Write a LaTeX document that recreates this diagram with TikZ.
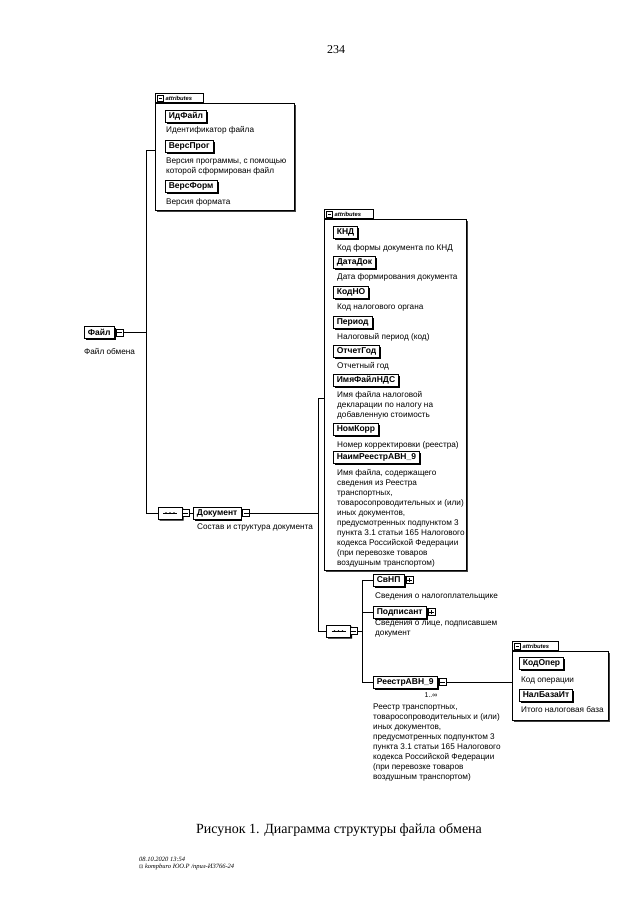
\documentclass[tikz,border=0pt]{standalone}
\usepackage{fontspec}
\setmainfont{Liberation Sans}
\newfontfamily\seriff{Liberation Serif}
\newfontfamily\symf{DejaVu Sans}
\usetikzlibrary{shapes.misc,shadows}
\begin{document}
\begin{tikzpicture}[x=1pt,y=-1pt,
  conn/.style={line width=0.7pt},
  elem/.style={draw, fill=white, line width=0.7pt, font=\bfseries\fontsize{8.5}{9}\selectfont,
    inner xsep=3.5pt, inner ysep=0pt, minimum height=12pt, anchor=west,
    drop shadow={shadow xshift=1.6pt, shadow yshift=-1.6pt, fill=black, opacity=1}},
  desc/.style={font=\fontsize{8.2}{10}\selectfont, inner sep=0pt, anchor=north west, align=left},
  symb/.style={draw, fill=white, line width=0.6pt, minimum size=7pt, inner sep=0pt},
  minusb/.style={symb, path picture={\draw[line width=0.5pt]
      ([xshift=1.2pt]path picture bounding box.west) -- ([xshift=-1.2pt]path picture bounding box.east);}},
  plusb/.style={symb, path picture={\draw[line width=0.5pt]
      ([xshift=1.2pt]path picture bounding box.west) -- ([xshift=-1.2pt]path picture bounding box.east)
      ([yshift=1.2pt]path picture bounding box.south) -- ([yshift=-1.2pt]path picture bounding box.north);}},
  attrbox/.style={draw, line width=0.7pt, fill=white, anchor=north west, inner sep=0pt,
    drop shadow={shadow xshift=1.2pt, shadow yshift=-1.2pt, fill=black!75, opacity=1}},
  attrtab/.style={draw, line width=0.7pt, fill=white, anchor=south west, inner sep=0pt, minimum height=9pt},
  tablabel/.style={font=\bfseries\itshape\fontsize{5.8}{6}\selectfont, anchor=west, inner sep=0pt},
  seqs/.style={chamfered rectangle, chamfered rectangle xsep=3.5pt, chamfered rectangle ysep=3.5pt,
    draw, fill=white, line width=0.7pt,
    minimum width=24pt, minimum height=12pt, inner sep=0pt,
    drop shadow={shadow xshift=1.5pt, shadow yshift=-1.5pt, fill=black, opacity=1}},
]
\useasboundingbox[fill=white] (0,0) rectangle (640,905);

% page number
\node[font=\seriff\fontsize{12}{14}\selectfont, inner sep=0pt] (pagenum) at (336,50) {234};

% ---------- attributes box 1 ----------
\node[attrbox, minimum width=139pt, minimum height=107pt] (attr1) at (155,103) {};
\node[attrtab, minimum width=48pt] (tab1) at (155,103) {};
\node[minusb, minimum size=6pt] (tm1) at (160.5,98.5) {};
\node[tablabel] (tl1) at (165.5,98.5) {attributes};
\node[elem] (idf) at (165,116.5) {ИдФайл};
\node[desc] (idfd) at (166,126.5) {Идентификатор файла};
\node[elem] (vprog) at (165,146) {ВерсПрог};
\node[desc] (vprogd) at (166,157.5) {Версия программы, с помощью\\которой сформирован файл};
\node[elem] (vform) at (165,186.5) {ВерсФорм};
\node[desc] (vformd) at (166,198.5) {Версия формата};

% ---------- root ----------
\node[elem] (fl) at (84,332.5) {Файл};
\node[minusb] (fls) at ([xshift=5pt]fl.east) {};
\node[desc] (fld) at (84,348.5) {Файл обмена};

\coordinate (v1t) at (146,150);
\coordinate (v1b) at (146,513);
\draw[conn] (fls.east) -- (fls.east -| v1t);

% sequence 1
\node[seqs] (seq1) at (170,513) {};
\draw[line width=0.6pt] ([xshift=-7pt]seq1.center) -- ([xshift=7pt]seq1.center);
\foreach \dx in {-4,0,4} \fill ([xshift=\dx pt]seq1.center) circle (0.9pt);
\node[minusb] (sq1) at (185.5,513) {};
\draw[conn] (attr1.west |- v1t) -- (v1t) -- (v1b) -- (seq1.west);

\node[elem] (doc) at (193,513) {Документ};
\node[minusb] (docs) at ([xshift=5pt]doc.east) {};
\node[desc] (docd) at (197,524) {Состав и структура документа};
\draw[conn] (sq1.east) -- (doc.west);

% ---------- attributes box 2 ----------
\node[attrbox, minimum width=142pt, minimum height=351pt] (attr2) at (324,219) {};
\node[attrtab, minimum width=49pt] (tab2) at (324,219) {};
\node[minusb, minimum size=6pt] (tm2) at (329.5,214.5) {};
\node[tablabel] (tl2) at (334.5,214.5) {attributes};
\node[elem] (knd) at (333,232) {КНД};
\node[desc] (kndd) at (337,244) {Код формы документа по КНД};
\node[elem] (datadok) at (333,262) {ДатаДок};
\node[desc] (datadokd) at (337,273) {Дата формирования документа};
\node[elem] (kodno) at (333,292) {КодНО};
\node[desc] (kodnod) at (337,303.5) {Код налогового органа};
\node[elem] (period) at (333,322) {Период};
\node[desc] (periodd) at (337,333.5) {Налоговый период (код)};
\node[elem] (otchgod) at (333,351.5) {ОтчетГод};
\node[desc] (otchgodd) at (337,362.5) {Отчетный год};
\node[elem] (imyaf) at (333,380.5) {ИмяФайлНДС};
\node[desc] (imyafd) at (337,391) {Имя файла налоговой\\декларации по налогу на\\добавленную стоимость};
\node[elem] (nomkorr) at (333,429.5) {НомКорр};
\node[desc] (nomkorrd) at (337,441) {Номер корректировки (реестра)};
\node[elem] (naim) at (333,457) {НаимРеестрАВН\_9};
\node[desc] (naimd) at (337,469) {Имя файла, содержащего\\сведения из Реестра\\транспортных,\\товаросопроводительных и (или)\\иных документов,\\предусмотренных подпунктом 3\\пункта 3.1 статьи 165 Налогового\\кодекса Российской Федерации\\(при перевозке товаров\\воздушным транспортом)};

\coordinate (v2t) at (318,398);
\coordinate (v2b) at (318,631);
\draw[conn] (docs.east) -- (docs.east -| v2t);

% sequence 2
\node[seqs] (seq2) at (338.5,631) {};
\draw[line width=0.6pt] ([xshift=-7pt]seq2.center) -- ([xshift=7pt]seq2.center);
\foreach \dx in {-4,0,4} \fill ([xshift=\dx pt]seq2.center) circle (0.9pt);
\node[minusb] (sq2) at (353.5,631) {};
\draw[conn] (attr2.west |- v2t) -- (v2t) -- (v2b) -- (seq2.west);

\coordinate (v3t) at (362,580);
\coordinate (v3b) at (362,682);
\draw[conn] (sq2.east) -- (sq2.east -| v3t);

\node[elem] (svnp) at (373,580) {СвНП};
\node[plusb] (svnps) at ([xshift=5pt]svnp.east) {};
\node[desc] (svnpd) at (375,592.5) {Сведения о налогоплательщике};
\node[elem] (podp) at (373,612) {Подписант};
\node[plusb] (podps) at ([xshift=5pt]podp.east) {};
\node[desc] (podpd) at (375,620) {Сведения о лице, подписавшем\\документ};
\node[elem] (reestr) at (373,682) {РеестрАВН\_9};
\node[minusb] (reestrs) at ([xshift=5pt]reestr.east) {};
\node[font=\fontsize{7}{8}\selectfont, inner sep=0pt] (mult) at (431,695) {1..∞};
\node[desc] (reestrd) at (373,703.5) {Реестр транспортных,\\товаросопроводительных и (или)\\иных документов,\\предусмотренных подпунктом 3\\пункта 3.1 статьи 165 Налогового\\кодекса Российской Федерации\\(при перевозке товаров\\воздушным транспортом)};

\draw[conn] (svnp.west) -- (v3t) -- (v3b) -- (reestr.west);
\draw[conn] (podp.west) -- (podp.west -| v3t);

% ---------- attributes box 3 ----------
\node[attrbox, minimum width=96pt, minimum height=69pt] (attr3) at (512,651) {};
\node[attrtab, minimum width=46pt] (tab3) at (512,651) {};
\node[minusb, minimum size=6pt] (tm3) at (517.5,646.5) {};
\node[tablabel] (tl3) at (522.5,646.5) {attributes};
\node[elem] (kodoper) at (519,663) {КодОпер};
\node[desc] (kodoperd) at (521,676.5) {Код операции};
\node[elem] (nalbaza) at (519,695) {НалБазаИт};
\node[desc] (nalbazad) at (521,706.5) {Итого налоговая база};
\draw[conn] (reestrs.east) -- (attr3.west |- reestrs.east);

% caption
\node[font=\seriff\fontsize{14}{16}\selectfont, inner sep=0pt, anchor=base] (caption) at (339,833) {Рисунок 1. Диаграмма структуры файла обмена};

% footer
\node[font=\seriff\itshape\fontsize{6.5}{7}\selectfont, inner sep=0pt, anchor=north west, align=left] (footer) at (139,857) {08.10.2020 13:54\\{\symf\fontsize{5}{7}\selectfont ⊡} kompburo ЮО.Р /прил-И3766-24};
\end{tikzpicture}
\end{document}
